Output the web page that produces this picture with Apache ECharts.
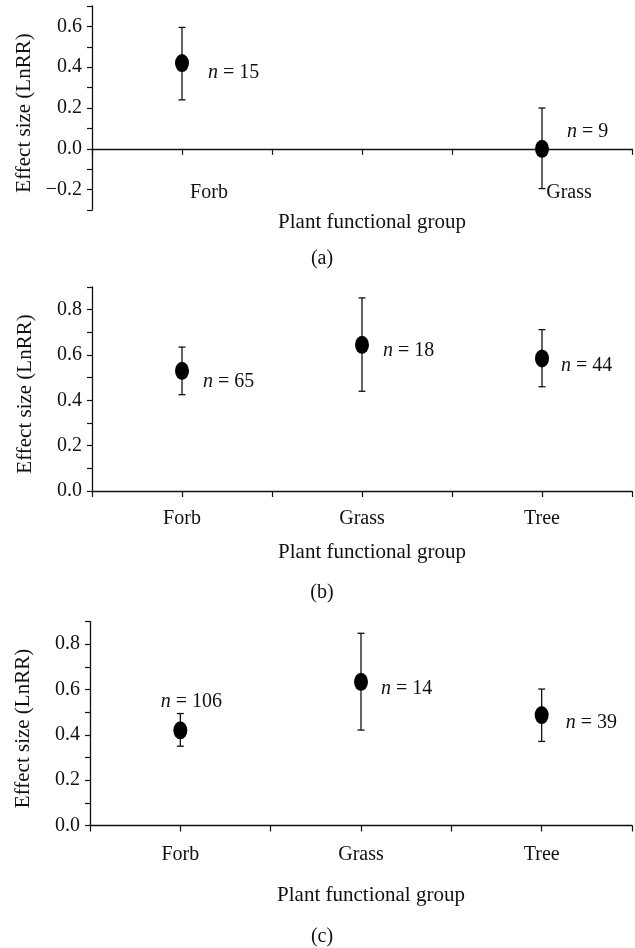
<!DOCTYPE html>
<html>
<head>
<meta charset="utf-8">
<script src="https://cdn.jsdelivr.net/npm/echarts@6/dist/echarts.min.js"></script>
<style>
html,body{margin:0;padding:0;background:#fff;}
#chart{width:635px;height:948px;}
</style>
</head>
<body>
<div id="chart"></div>
<script>
// ---- Data ----
const groupsA = ['Forb', 'Grass'];
const slotsA = [1, 5];
const meanA = [0.42, 0.00];
const lowA = [0.24, -0.195];
const highA = [0.595, 0.20];
const nA = [15, 9];

const groupsB = ['Forb', 'Grass', 'Tree'];
const slotsB = [1, 3, 5];
const meanB = [0.53, 0.645, 0.585];
const lowB = [0.425, 0.44, 0.46];
const highB = [0.635, 0.852, 0.712];
const nB = [65, 18, 44];

const groupsC = ['Forb', 'Grass', 'Tree'];
const slotsC = [1, 3, 5];
const meanC = [0.42, 0.634, 0.487];
const lowC = [0.35, 0.421, 0.371];
const highC = [0.494, 0.848, 0.602];
const nC = [106, 14, 39];

const yTitle = 'Effect size (LnRR)';
const xTitle = 'Plant functional group';
const panelTags = ['(a)', '(b)', '(c)'];

// ---- Styles ----
const FONT = 'Liberation Serif, Times New Roman, serif';
const FS = 20;
const FST = 21;
const INK = '#111111';
const labelPosA = [{position: 'right', offset: [19, 10]}, {position: 'right', offset: [18, -17]}];
const labelPosB = [{position: 'right', offset: [14, 11]}, {position: 'right', offset: [14, 6]}, {position: 'right', offset: [12, 7]}];
const labelPosC = [{position: 'top', offset: [11, -10]}, {position: 'right', offset: [13, 7]}, {position: 'right', offset: [17, 8]}];

function yFmt(v) {
  const k = Math.round(v * 10);
  if (k % 2 !== 0) return '';
  return (v < -1e-9 ? '\u2212' : '') + Math.abs(v).toFixed(1);
}

function errRender(params, api) {
  const x = api.value(0), lo = api.value(1), hi = api.value(2);
  const a = api.coord([x, lo]), b = api.coord([x, hi]);
  const hw = 3.5;
  const st = {stroke: INK, lineWidth: 1.3};
  return {type: 'group', children: [
    {type: 'line', shape: {x1: a[0], y1: a[1], x2: b[0], y2: b[1]}, style: st},
    {type: 'line', shape: {x1: a[0] - hw, y1: a[1], x2: a[0] + hw, y2: a[1]}, style: st},
    {type: 'line', shape: {x1: b[0] - hw, y1: b[1], x2: b[0] + hw, y2: b[1]}, style: st}
  ]};
}

function yAxisCfg(gi, min, max) {
  return {
    type: 'value', gridIndex: gi, min: min, max: max, interval: 0.1,
    axisLine: {show: true, onZero: false, lineStyle: {color: INK, width: 1.3}},
    axisTick: {show: true, length: 5, lineStyle: {color: INK, width: 1.2}},
    splitLine: {show: false},
    axisLabel: {formatter: yFmt, fontFamily: FONT, fontSize: FS, color: INK, margin: 10},
    name: yTitle, nameLocation: 'middle', nameRotate: 90, nameGap: 56,
    nameTextStyle: {fontFamily: FONT, fontSize: FST, color: INK, padding: [0, 10, 0, 0]}
  };
}

function seriesFor(xi, yi, slots, mean, low, high, n, pos) {
  return [
    {
      type: 'custom', xAxisIndex: xi, yAxisIndex: yi, renderItem: errRender,
      encode: {x: 0, y: [1, 2]}, z: 2, silent: true,
      data: slots.map((s, i) => [s, low[i], high[i]])
    },
    {
      type: 'scatter', xAxisIndex: xi, yAxisIndex: yi, symbol: 'circle', symbolSize: [14, 18],
      itemStyle: {color: '#000', opacity: 1}, z: 3, silent: true,
      data: slots.map((s, i) => ({
        value: [s, mean[i]],
        label: {
          show: true, position: pos[i].position, distance: 0, offset: pos[i].offset,
          formatter: '{i|n} = ' + n[i], opacity: 1,
          fontFamily: FONT, fontSize: FS, color: INK,
          rich: {i: {fontStyle: 'italic', fontFamily: FONT, fontSize: FS, color: INK}}
        }
      }))
    }
  ];
}

function nameMap(slots, groups) {
  const m = {};
  slots.forEach((s, i) => { m[s] = groups[i]; });
  return m;
}

const mapA = nameMap(slotsA, groupsA);
const mapB = nameMap(slotsB, groupsB);
const mapC = nameMap(slotsC, groupsC);

const chart = echarts.init(document.getElementById('chart'), null, {renderer: 'canvas'});

const axisLineStyle = {color: INK, width: 1.3};

const option = {
  animation: false,
  backgroundColor: '#fff',
  textStyle: {fontFamily: FONT},
  grid: [
    {left: 92, top: 6, width: 546, height: 204},
    {left: 92, top: 287, width: 546, height: 204},
    {left: 90, top: 621.5, width: 546, height: 204}
  ],
  xAxis: [
    { // (a) main axis at zero
      type: 'value', gridIndex: 0, min: 0, max: 6, interval: 1,
      axisLine: {show: true, onZero: true, lineStyle: axisLineStyle},
      axisTick: {show: true, length: 6, lineStyle: {color: INK, width: 1.2}},
      axisLabel: {show: false}, splitLine: {show: false}
    },
    { // (a) label axis
      type: 'value', gridIndex: 0, min: 0, max: 6, interval: 1, position: 'bottom',
      axisLine: {show: false, onZero: false}, axisTick: {show: false}, splitLine: {show: false},
      axisLabel: {formatter: v => mapA[v] || '', fontFamily: FONT, fontSize: FS, color: INK,
                  margin: -27, padding: [0, 0, 0, 54]},
      name: xTitle, nameLocation: 'middle', nameGap: -1,
      nameTextStyle: {fontFamily: FONT, fontSize: FST, color: INK, padding: [0, 0, 0, 20]}
    },
    { // (b)
      type: 'value', gridIndex: 1, min: 0, max: 6, interval: 1,
      axisLine: {show: true, onZero: false, lineStyle: axisLineStyle},
      axisTick: {show: true, length: 6, lineStyle: {color: INK, width: 1.2}},
      splitLine: {show: false},
      axisLabel: {formatter: v => mapB[v] || '', fontFamily: FONT, fontSize: FS, color: INK, margin: 18},
      name: xTitle, nameLocation: 'middle', nameGap: 51,
      nameTextStyle: {fontFamily: FONT, fontSize: FST, color: INK, padding: [0, 0, 0, 20]}
    },
    { // (c)
      type: 'value', gridIndex: 2, min: 0, max: 6, interval: 1,
      axisLine: {show: true, onZero: false, lineStyle: axisLineStyle},
      axisTick: {show: true, length: 6, lineStyle: {color: INK, width: 1.2}},
      splitLine: {show: false},
      axisLabel: {formatter: v => mapC[v] || '', fontFamily: FONT, fontSize: FS, color: INK, margin: 19},
      name: xTitle, nameLocation: 'middle', nameGap: 59,
      nameTextStyle: {fontFamily: FONT, fontSize: FST, color: INK, padding: [0, 0, 0, 20]}
    }
  ],
  yAxis: [
    yAxisCfg(0, -0.3, 0.7),
    yAxisCfg(1, 0, 0.9),
    yAxisCfg(2, 0, 0.9)
  ],
  series: [].concat(
    seriesFor(0, 0, slotsA, meanA, lowA, highA, nA, labelPosA),
    seriesFor(2, 1, slotsB, meanB, lowB, highB, nB, labelPosB),
    seriesFor(3, 2, slotsC, meanC, lowC, highC, nC, labelPosC)
  ),
  graphic: [
    {type: 'text', x: 322, y: 259, style: {text: panelTags[0], fontFamily: FONT, fontSize: FS, fill: INK, textAlign: 'center', textVerticalAlign: 'middle'}},
    {type: 'text', x: 322, y: 593, style: {text: panelTags[1], fontFamily: FONT, fontSize: FS, fill: INK, textAlign: 'center', textVerticalAlign: 'middle'}},
    {type: 'text', x: 322, y: 937, style: {text: panelTags[2], fontFamily: FONT, fontSize: FS, fill: INK, textAlign: 'center', textVerticalAlign: 'middle'}}
  ]
};

chart.setOption(option);
</script>
</body>
</html>
